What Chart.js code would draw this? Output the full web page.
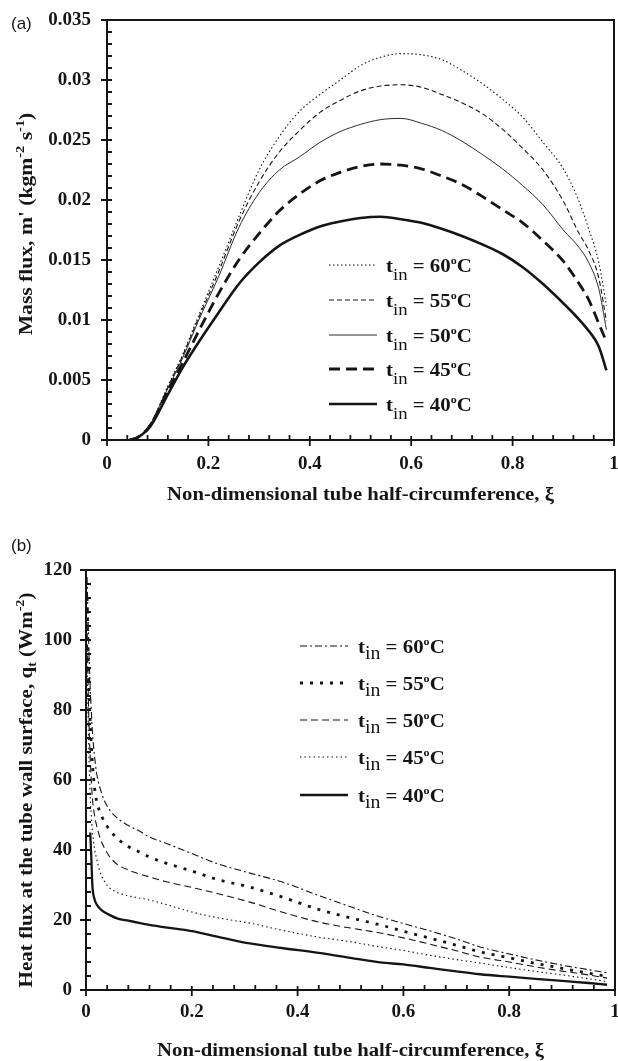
<!DOCTYPE html>
<html>
<head>
<meta charset="utf-8">
<script src="https://cdn.jsdelivr.net/npm/chart.js@4.4.1/dist/chart.umd.min.js"></script>
<style>
  html, body { margin: 0; padding: 0; background: #fff; }
  .box { position: absolute; left: 0; width: 618px; }
  #wrapA { top: 0; height: 515px; }
  #wrapB { top: 515px; height: 546px; }
</style>
</head>
<body>
<div class="box" id="wrapA"><canvas id="chartA"></canvas></div>
<div class="box" id="wrapB"><canvas id="chartB"></canvas></div>
<script>
// ---- data ----
const inletTemps = ['60', '55', '50', '45', '40'];

// (a) mass flux vs xi
const xiMass = [0.045, 0.06, 0.085, 0.12, 0.15, 0.18, 0.22, 0.26, 0.30, 0.34, 0.38, 0.42, 0.46, 0.50,
  0.54, 0.58, 0.62, 0.66, 0.70, 0.74, 0.78, 0.82, 0.86, 0.90, 0.93, 0.95, 0.97, 0.985];
const mass60 = [0, 0.0002, 0.0013, 0.0045, 0.0072, 0.0103, 0.0144, 0.0186, 0.0225, 0.0253, 0.0274, 0.0288, 0.03, 0.0312,
  0.0319, 0.0322, 0.0321, 0.0317, 0.0308, 0.0297, 0.0284, 0.0269, 0.0248, 0.0226, 0.02, 0.0176, 0.0148, 0.0112];
const mass55 = [0, 0.0002, 0.0013, 0.0044, 0.0071, 0.0101, 0.014, 0.0182, 0.0215, 0.024, 0.0258, 0.0273, 0.0283, 0.0291,
  0.0295, 0.0296, 0.0294, 0.0288, 0.0281, 0.0272, 0.0259, 0.0243, 0.0225, 0.0199, 0.0173, 0.0158, 0.0135, 0.0099];
const mass50 = [0, 0.0002, 0.0013, 0.0043, 0.0069, 0.0099, 0.0136, 0.0177, 0.0206, 0.0225, 0.0236, 0.0248, 0.0257, 0.0263,
  0.0267, 0.0268, 0.0264, 0.0258, 0.0249, 0.0238, 0.0226, 0.0212, 0.0196, 0.0175, 0.0161, 0.0148, 0.0126, 0.0092];
const mass45 = [0, 0.0002, 0.0012, 0.0041, 0.0065, 0.009, 0.0122, 0.015, 0.0172, 0.0191, 0.0205, 0.0216, 0.0223, 0.0228,
  0.023, 0.0229, 0.0226, 0.022, 0.0213, 0.0203, 0.0192, 0.0181, 0.0166, 0.0149, 0.0131, 0.0117, 0.0097, 0.0082];
const mass40 = [0, 0.0002, 0.0011, 0.0038, 0.0061, 0.0081, 0.0106, 0.013, 0.0148, 0.0162, 0.0171, 0.0178, 0.0182, 0.0185,
  0.0186, 0.0184, 0.0181, 0.0176, 0.017, 0.0163, 0.0155, 0.0144, 0.013, 0.0114, 0.0101, 0.0091, 0.0078, 0.0058];

// (b) heat flux vs xi
const xiHeat = [0.002, 0.005, 0.008, 0.01, 0.012, 0.016, 0.02, 0.026, 0.035, 0.045, 0.06, 0.08, 0.1, 0.12, 0.15,
  0.2, 0.25, 0.31, 0.37, 0.44, 0.5, 0.556, 0.6, 0.65, 0.7, 0.745, 0.8, 0.85, 0.9, 0.95, 0.985];
const heat60 = [118, 100, 86, 80, 74, 67, 62, 58, 54, 51.4, 49, 47, 45.5, 43.7, 42,
  39, 36, 33.4, 30.9, 27, 23.8, 20.9, 19, 16.9, 14.6, 12.3, 10.3, 8.6, 7.1, 5.8, 4.9];
const heat55 = [112, 90, 76, 70, 65, 58, 54, 51, 48, 45.7, 43.2, 41, 39.5, 38, 36.3,
  34, 31.5, 29.4, 26.6, 23, 20.6, 18.6, 16.8, 14.8, 12.8, 10.9, 9.2, 7.6, 6.2, 4.8, 3.9];
const heat50 = [105, 80, 66, 60, 55, 50, 47, 43.7, 40.5, 38, 35.8, 34.3, 33.2, 32.3, 31,
  29.3, 27.5, 25.1, 22.3, 19.4, 17.7, 16.3, 14.9, 13.1, 11.2, 9.4, 8, 6.6, 5.4, 4.3, 3.4];
const heat45 = [95, 70, 55, 50, 45.5, 40.5, 37.5, 34, 31, 29.1, 27.8, 26.9, 26.3, 25.7, 24.5,
  22.3, 20.6, 19.1, 17.1, 15.1, 13.8, 12.3, 11.3, 9.9, 8.7, 7.7, 6.4, 5.3, 4.3, 3.2, 2.4];
const heat40 = [null, null, 45, 38, 30, 26, 24.5, 23.3, 22.2, 21.4, 20.4, 19.8, 19.2, 18.6, 17.9,
  16.8, 15.2, 13.3, 12.0, 10.6, 9.2, 7.9, 7.3, 6.3, 5.3, 4.5, 3.8, 3.2, 2.6, 2.0, 1.5];

const ink = '#151515';
const serif = '"Liberation Serif", "Times New Roman", serif';
Chart.defaults.font.family = serif;
Chart.defaults.color = ink;

function pts(xs, ys) {
  return xs.map((x, i) => ({ x: x, y: ys[i] }));
}

// draws a run of text pieces (for sub/superscripts), stretched along the run by st
function drawParts(ctx, x, y, parts, st, measureOnly) {
  let cx = 0;
  ctx.save();
  ctx.translate(x, y);
  ctx.scale(st, 1);
  parts.forEach(p => {
    ctx.font = (p.bold === false ? '' : 'bold ') + p.size + 'px ' + serif;
    if (!measureOnly) ctx.fillText(p.t, cx, p.dy || 0);
    cx += ctx.measureText(p.t).width;
  });
  ctx.restore();
  return cx * st;
}

// frame, inward minor ticks, titles and the legend
const figPlugin = {
  id: 'fig',
  afterDraw(chart, args, o) {
    const ctx = chart.ctx;
    const a = chart.chartArea;
    const sx = chart.scales.x, sy = chart.scales.y;
    ctx.save();
    ctx.strokeStyle = ink;
    ctx.fillStyle = ink;
    ctx.lineWidth = 2;
    ctx.strokeRect(a.left, a.top, a.right - a.left, a.bottom - a.top);

    ctx.lineWidth = 1.8;
    ctx.beginPath();
    sx.ticks.forEach(t => {
      const px = sx.getPixelForValue(t.value);
      ctx.moveTo(px, a.bottom - 4); ctx.lineTo(px, a.bottom + 6);
    });
    sy.ticks.forEach(t => {
      const py = sy.getPixelForValue(t.value);
      ctx.moveTo(a.left - 6, py); ctx.lineTo(a.left + 5, py);
    });
    const nx = Math.round((sx.max - sx.min) / o.xMinor);
    for (let i = 1; i < nx; i++) {
      if (i % 5 === 0) continue;
      const px = sx.getPixelForValue(sx.min + i * o.xMinor);
      ctx.moveTo(px, a.bottom); ctx.lineTo(px, a.bottom - 5);
    }
    const ny = Math.round((sy.max - sy.min) / o.yMinor);
    for (let i = 1; i < ny; i++) {
      if (i % 5 === 0) continue;
      const py = sy.getPixelForValue(sy.min + i * o.yMinor);
      ctx.moveTo(a.left, py); ctx.lineTo(a.left + 5, py);
    }
    ctx.stroke();

    // panel tag
    ctx.font = '17px "Liberation Sans", Arial, sans-serif';
    ctx.textBaseline = 'alphabetic';
    ctx.fillText(o.tag, 11, o.tagY);

    // x title
    const xw = drawParts(ctx, 0, 0, o.xTitle, o.stretch, true);
    drawParts(ctx, (a.left + a.right) / 2 - xw / 2, o.xTitleY, o.xTitle, o.stretch);

    // y title (rotated)
    ctx.save();
    ctx.translate(o.yTitleX, (a.top + a.bottom) / 2 + (o.yTitleShift || 0));
    ctx.rotate(-Math.PI / 2);
    const yw = drawParts(ctx, 0, 0, o.yTitle, o.yStretch, true);
    drawParts(ctx, -yw / 2, 0, o.yTitle, o.yStretch);
    ctx.restore();

    // legend
    const L = o.legend;
    chart.data.datasets.forEach((ds, i) => {
      const ry = L.rows[i];
      ctx.save();
      ctx.lineWidth = ds.borderWidth;
      ctx.setLineDash(ds.borderDash || []);
      ctx.beginPath();
      ctx.moveTo(L.x0, ry); ctx.lineTo(L.x1, ry);
      ctx.stroke();
      ctx.restore();
      drawParts(ctx, L.tx, ry + L.base, [
        { t: 't', size: L.size },
        { t: 'in', size: L.subSize, bold: false, dy: L.subDy },
        { t: ' = ' + inletTemps[i], size: L.size },
        { t: 'o', size: Math.round(L.size * 0.6), dy: -L.size * 0.42 },
        { t: 'C', size: L.size }
      ], L.stretch);
    });
    ctx.restore();
  }
};

const tickFont = { family: serif, size: 19, weight: 'bold' };
const fmt = v => String(+Number(v).toFixed(3));

function makeChart(id, datasets, xs, opt) {
  return new Chart(document.getElementById(id), {
    type: 'line',
    plugins: [figPlugin],
    data: {
      datasets: datasets.map(d => ({
        label: d.label,
        data: pts(xs, d.values),
        borderColor: ink,
        borderWidth: d.width,
        borderDash: d.dash,
        pointRadius: 0,
        fill: false,
        cubicInterpolationMode: 'monotone'
      }))
    },
    options: {
      animation: false,
      responsive: true,
      maintainAspectRatio: false,
      layout: { padding: opt.padding },
      plugins: {
        legend: { display: false },
        tooltip: { enabled: false },
        fig: opt.fig
      },
      scales: {
        x: {
          type: 'linear', min: 0, max: 1,
          grid: { display: false, drawTicks: false },
          border: { display: false },
          ticks: { stepSize: 0.2, font: tickFont, color: ink, padding: opt.xPad, callback: fmt, maxRotation: 0 },
          afterFit: s => { s.height = opt.xHeight; s.paddingLeft = 0; s.paddingRight = 0; }
        },
        y: {
          type: 'linear', min: opt.yMin, max: opt.yMax,
          grid: { display: false, drawTicks: false },
          border: { display: false },
          ticks: { stepSize: opt.yStep, font: tickFont, color: ink, padding: opt.yPad, callback: fmt },
          afterFit: s => { s.width = opt.yWidth; s.paddingTop = 0; s.paddingBottom = 0; }
        }
      }
    }
  });
}

// ---- (a) ----
makeChart('chartA', [
  { label: '60', values: mass60, width: 1.1, dash: [1.5, 2.5] },
  { label: '55', values: mass55, width: 1.1, dash: [5, 3] },
  { label: '50', values: mass50, width: 0.9, dash: [] },
  { label: '45', values: mass45, width: 2.8, dash: [11, 6] },
  { label: '40', values: mass40, width: 2.6, dash: [] }
], xiMass, {
  padding: { top: 20, right: 4, left: 0, bottom: 0 },
  xHeight: 75, yWidth: 107, xPad: 13, yPad: 16,
  yMin: 0, yMax: 0.035, yStep: 0.005,
  fig: {
    xMinor: 0.04, yMinor: 0.001, tag: '(a)', tagY: 29,
    xTitleY: 500, stretch: 1.15,
    xTitle: [{ t: 'Non-dimensional tube half-circumference, \u03BE', size: 18 }],
    yTitleX: 32, yTitleShift: -6, yStretch: 1.2,
    yTitle: [
      { t: 'Mass flux, m\' (kgm', size: 18 },
      { t: '-2', size: 12, dy: -8 },
      { t: ' s', size: 18 },
      { t: '-1', size: 12, dy: -8 },
      { t: ')', size: 18 }
    ],
    legend: { x0: 329, x1: 377, tx: 386, rows: [265, 300, 335, 369, 404], base: 7, size: 19, subSize: 17, subDy: 8, stretch: 1.1 }
  }
});

// ---- (b) ----
makeChart('chartB', [
  { label: '60', values: heat60, width: 1.1, dash: [7, 3, 2, 3] },
  { label: '55', values: heat55, width: 2.8, dash: [3, 7] },
  { label: '50', values: heat50, width: 1.1, dash: [7, 4] },
  { label: '45', values: heat45, width: 1.1, dash: [1.5, 3] },
  { label: '40', values: heat40, width: 2.3, dash: [] }
], xiHeat, {
  padding: { top: 55, right: 3, left: 0, bottom: 0 },
  xHeight: 71, yWidth: 86, xPad: 11, yPad: 14,
  yMin: 0, yMax: 120, yStep: 20,
  fig: {
    xMinor: 0.04, yMinor: 4, tag: '(b)', tagY: 36,
    xTitleY: 541, stretch: 1.15,
    xTitle: [{ t: 'Non-dimensional tube half-circumference, \u03BE', size: 18 }],
    yTitleX: 32, yTitleShift: 10, yStretch: 1.17,
    yTitle: [
      { t: 'Heat flux at the tube wall surface, q', size: 18 },
      { t: 't', size: 12, dy: 4 },
      { t: ' (Wm', size: 18 },
      { t: '-2', size: 12, dy: -8 },
      { t: ')', size: 18 }
    ],
    legend: { x0: 300, x1: 348, tx: 358, rows: [131, 168, 205, 242, 280], base: 7, size: 19, subSize: 18, subDy: 6, stretch: 1.1 }
  }
});
</script>
</body>
</html>
